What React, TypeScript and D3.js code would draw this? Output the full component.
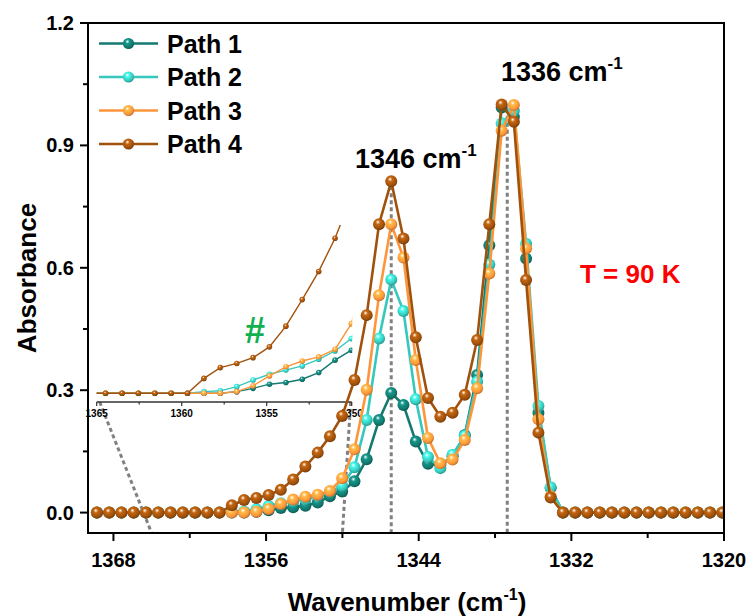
import * as d3 from 'd3';

const wavenumbers = [
  1369.30, 1368.33, 1367.37, 1366.41, 1365.44, 1364.48, 1363.51, 1362.55, 1361.58, 1360.62,
  1359.66, 1358.69, 1357.73, 1356.76, 1355.80, 1354.84, 1353.87, 1352.91, 1351.94, 1350.98,
  1350.02, 1349.05, 1348.09, 1347.12, 1346.16, 1345.20, 1344.23, 1343.27, 1342.30, 1341.34,
  1340.38, 1339.41, 1338.45, 1337.48, 1336.52, 1335.56, 1334.59, 1333.63, 1332.66, 1331.70,
  1330.74, 1329.77, 1328.81, 1327.84, 1326.88, 1325.92, 1324.95, 1323.99, 1323.02, 1322.06,
  1321.10, 1320.13,
];

const path1 = [
  0, 0, 0, 0, 0, 0, 0, 0, 0, 0,
  0, 0, 0, 0.002, 0.006, 0.011, 0.013, 0.017, 0.025, 0.040,
  0.052, 0.077, 0.131, 0.227, 0.293, 0.264, 0.174, 0.120, 0.117, 0.138,
  0.190, 0.337, 0.655, 0.993, 0.970, 0.623, 0.245, 0.060, 0, 0,
  0, 0, 0, 0, 0, 0, 0, 0, 0, 0,
  0, 0,
];
const path2 = [
  0, 0, 0, 0, 0, 0, 0, 0, 0, 0,
  0, 0.002, 0.003, 0.008, 0.016, 0.023, 0.028, 0.033, 0.041, 0.051,
  0.066, 0.111, 0.227, 0.427, 0.571, 0.494, 0.278, 0.136, 0.109, 0.142,
  0.188, 0.321, 0.608, 0.954, 0.985, 0.659, 0.261, 0.062, 0, 0,
  0, 0, 0, 0, 0, 0, 0, 0, 0, 0,
  0, 0,
];
const path3 = [
  0, 0, 0, 0, 0, 0, 0, 0, 0, 0,
  0, 0, 0, 0.002, 0.009, 0.021, 0.032, 0.039, 0.044, 0.053,
  0.084, 0.155, 0.301, 0.533, 0.707, 0.625, 0.374, 0.183, 0.121, 0.130,
  0.178, 0.305, 0.586, 0.936, 0.999, 0.647, 0.229, 0.040, 0, 0,
  0, 0, 0, 0, 0, 0, 0, 0, 0, 0,
  0, 0,
];
const path4 = [
  0, 0, 0, 0, 0, 0, 0, 0, 0, 0,
  0, 0.018, 0.031, 0.036, 0.043, 0.056, 0.081, 0.113, 0.147, 0.187,
  0.237, 0.325, 0.484, 0.707, 0.812, 0.672, 0.430, 0.281, 0.235, 0.245,
  0.289, 0.423, 0.707, 1.000, 0.958, 0.570, 0.196, 0.037, 0, 0,
  0, 0, 0, 0, 0, 0, 0, 0, 0, 0,
  0, 0,
];

const seriesNames = ['Path 1', 'Path 2', 'Path 3', 'Path 4'];
const seriesValues = [path1, path2, path3, path4];
const seriesColors = ['#127a70', '#36c8bd', '#fd963a', '#a0520d'];

const xTicks = [1368, 1356, 1344, 1332, 1320];
const xMinorTicks = [1362, 1350, 1338, 1326];
const yTicks = [0, 0.3, 0.6, 0.9, 1.2];
const yMinorTicks = [0.15, 0.45, 0.75, 1.05];
const insetTicks = [1365, 1360, 1355, 1350];
const insetMinorTicks = [1362.5, 1357.5, 1352.5];
const peakLines = [1346.16, 1337.04];

const W = 748;
const H = 616;
const plot = { left: 88, right: 724, top: 23, bottom: 533 };
const inset = { left: 96.7, right: 351.7, top: 225, base: 393.3, axis: 402 };
const font = '"Liberation Sans", Arial, sans-serif';

const x = d3.scaleLinear().domain([1370, 1320]).range([plot.left, plot.right]);
const y = d3.scaleLinear().domain([-0.05, 1.2]).range([plot.bottom, plot.top]);
const xi = d3.scaleLinear().domain([1365, 1350]).range([inset.left, inset.right]);
const yi = d3.scaleLinear().domain([0, 0.203]).range([inset.base, inset.top]);

const mainLine = d3.line<number>().x((_, i) => x(wavenumbers[i])).y((d) => y(d));
const insetLine = d3.line<number>().x((_, i) => xi(wavenumbers[i])).y((d) => yi(d));

const fmt = d3.format('.1f');

function Ball({ cx, cy, r, i }: { cx: number; cy: number; r: number; i: number }) {
  return <circle cx={cx} cy={cy} r={r} fill={`url(#ball${i})`} />;
}

export default function App() {
  return (
    <div style={{ position: 'absolute', left: 0, top: 0 }}>
      <svg width={W} height={H} style={{ display: 'block', background: '#fff' }} fontFamily={font}>
        <defs>
          {seriesColors.map((c, i) => {
            const col = d3.color(c)!;
            return (
              <radialGradient key={i} id={`ball${i}`} cx="0.42" cy="0.38" r="0.62" fx="0.4" fy="0.32">
                <stop offset="0%" stopColor="#ffffff" />
                <stop offset="30%" stopColor={col.brighter(0.6).formatHex()} />
                <stop offset="75%" stopColor={c} />
                <stop offset="100%" stopColor={col.darker(0.8).formatHex()} />
              </radialGradient>
            );
          })}
          <clipPath id="plotClip">
            <rect x={plot.left} y={plot.top} width={plot.right - plot.left} height={plot.bottom - plot.top} />
          </clipPath>
          <clipPath id="insetClip">
            <rect x={inset.left} y={inset.top} width={inset.right - inset.left + 0.5} height={inset.axis - inset.top} />
          </clipPath>
        </defs>

        {/* peak guides */}
        {peakLines.map((w, k) => (
          <line key={k} x1={x(w)} x2={x(w)} y1={y(k === 0 ? 0.8 : 0.99)} y2={plot.bottom}
            stroke="#808080" strokeWidth={3} strokeDasharray="4,3" />
        ))}
        {/* zoom connectors */}
        <line x1={xi(1365) + 3} y1={inset.axis} x2={x(1365)} y2={plot.bottom} stroke="#808080" strokeWidth={3} strokeDasharray="4,3" />
        <line x1={xi(1350) - 1} y1={inset.axis} x2={x(1350)} y2={plot.bottom} stroke="#808080" strokeWidth={3} strokeDasharray="4,3" />

        {/* inset */}
        <g clipPath="url(#insetClip)">
          {seriesValues.map((vals, s) => (
            <g key={s}>
              <path d={insetLine(vals) || ''} fill="none" stroke={seriesColors[s]} strokeWidth={1.4} />
              {vals.map((v, i) => (
                <Ball key={i} cx={xi(wavenumbers[i])} cy={yi(v)} r={2.8} i={s} />
              ))}
            </g>
          ))}
        </g>
        <line x1={inset.left} x2={inset.right} y1={inset.axis} y2={inset.axis} stroke="#333" strokeWidth={1.3} />
        {insetTicks.map((t) => (
          <g key={t}>
            <line x1={xi(t)} x2={xi(t)} y1={inset.axis} y2={inset.axis + 4} stroke="#333" strokeWidth={1.2} />
            <text x={xi(t)} y={inset.axis + 15} fontSize={10} fontWeight="bold" textAnchor="middle">{t}</text>
          </g>
        ))}
        {insetMinorTicks.map((t) => (
          <line key={t} x1={xi(t)} x2={xi(t)} y1={inset.axis} y2={inset.axis + 2.5} stroke="#333" strokeWidth={1.2} />
        ))}
        <text x={255} y={343} fontSize={36} fontWeight="bold" fill="#12b050" textAnchor="middle">#</text>

        {/* main series */}
        <g clipPath="url(#plotClip)">
          {seriesValues.map((vals, s) => (
            <g key={s}>
              <path d={mainLine(vals) || ''} fill="none" stroke={seriesColors[s]} strokeWidth={2.6} strokeLinejoin="round" />
              {vals.map((v, i) => (
                <Ball key={i} cx={x(wavenumbers[i])} cy={y(v)} r={6} i={s} />
              ))}
            </g>
          ))}
        </g>

        {/* frame and axes */}
        <rect x={plot.left} y={plot.top} width={plot.right - plot.left} height={plot.bottom - plot.top}
          fill="none" stroke="#000" strokeWidth={2} />
        {xTicks.map((t) => (
          <g key={t}>
            <line x1={x(t)} x2={x(t)} y1={plot.bottom} y2={plot.bottom + 8} stroke="#000" strokeWidth={2} />
            <text x={x(t)} y={plot.bottom + 34} fontSize={20} fontWeight="bold" textAnchor="middle">{t}</text>
          </g>
        ))}
        {xMinorTicks.map((t) => (
          <line key={t} x1={x(t)} x2={x(t)} y1={plot.bottom} y2={plot.bottom + 5} stroke="#000" strokeWidth={2} />
        ))}
        {yTicks.map((t) => (
          <g key={t}>
            <line x1={plot.left - 8} x2={plot.left} y1={y(t)} y2={y(t)} stroke="#000" strokeWidth={2} />
            <text x={plot.left - 14} y={y(t) + 7} fontSize={20} fontWeight="bold" textAnchor="end">{fmt(t)}</text>
          </g>
        ))}
        {yMinorTicks.map((t) => (
          <line key={t} x1={plot.left - 5} x2={plot.left} y1={y(t)} y2={y(t)} stroke="#000" strokeWidth={2} />
        ))}

        <text x={407} y={611} fontSize={26} fontWeight="bold" textAnchor="middle">
          Wavenumber (cm<tspan fontSize={16} dy={-11}>-1</tspan><tspan dy={11}>)</tspan>
        </text>
        <text transform="translate(36,278) rotate(-90)" fontSize={26} fontWeight="bold" textAnchor="middle">Absorbance</text>

        {/* legend */}
        {seriesNames.map((n, i) => {
          const ly = 43.5 + i * 33.5;
          return (
            <g key={n}>
              <line x1={99} x2={158} y1={ly} y2={ly} stroke={seriesColors[i]} strokeWidth={2.6} />
              <Ball cx={128.5} cy={ly} r={5.6} i={i} />
              <text x={167} y={ly + 9} fontSize={25} fontWeight="bold">{n}</text>
            </g>
          );
        })}

        {/* annotations */}
        <text x={355} y={168} fontSize={27} fontWeight="bold">
          1346 cm<tspan fontSize={17} dy={-12}>-1</tspan>
        </text>
        <text x={501} y={81} fontSize={27} fontWeight="bold">
          1336 cm<tspan fontSize={17} dy={-12}>-1</tspan>
        </text>
        <text x={580} y={283} fontSize={26} fontWeight="bold" fill="#ff0000">T = 90 K</text>
      </svg>
    </div>
  );
}
